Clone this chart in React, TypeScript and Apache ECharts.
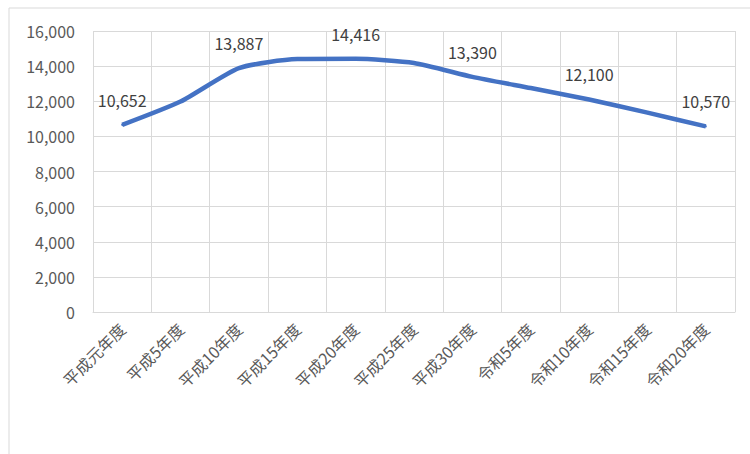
import React, { useEffect, useRef } from "react";
import * as echarts from "echarts";

const categories = [
  "平成元年度", "平成5年度", "平成10年度", "平成15年度", "平成20年度", "平成25年度",
  "平成30年度", "令和5年度", "令和10年度", "令和15年度", "令和20年度",
];
const values = [10652, 11980, 13887, 14400, 14416, 14180, 13390, 12750, 12100, 11350, 10570];
const labeledIndexes = [0, 2, 4, 6, 8, 10];
const yMin = 0;
const yMax = 16000;
const yInterval = 2000;

export default function App() {
  const ref = useRef<HTMLDivElement>(null);
  useEffect(() => {
    if (!ref.current) return;
    const chart = echarts.init(ref.current, null, { renderer: "svg" });
    const font = "'Noto Sans CJK JP', 'Noto Sans', sans-serif";
    chart.setOption({
      animation: false,
      backgroundColor: "#ffffff",
      textStyle: { fontFamily: font },
      graphic: [
        {
          type: "rect",
          shape: { x: 9, y: 8, width: 760, height: 470 },
          style: { fill: "none", stroke: "#d9d9d9", lineWidth: 1 },
          silent: true,
        },
      ],
      grid: { left: 93, right: 15, top: 31, bottom: 142 },
      xAxis: {
        type: "category",
        data: categories,
        boundaryGap: true,
        axisLine: { show: true, lineStyle: { color: "#d9d9d9", width: 1 } },
        axisTick: { show: false },
        splitLine: { show: true, lineStyle: { color: "#d9d9d9", width: 1 } },
        axisLabel: {
          rotate: 45,
          margin: 14,
          fontSize: 16,
          color: "#595959",
          fontFamily: font,
          interval: 0,
        },
      },
      yAxis: {
        type: "value",
        min: yMin,
        max: yMax,
        interval: yInterval,
        axisLine: { show: false },
        axisTick: { show: false },
        splitLine: { show: true, lineStyle: { color: "#d9d9d9", width: 1 } },
        axisLabel: {
          margin: 18,
          fontSize: 16,
          color: "#595959",
          fontFamily: font,
          formatter: (v: number) => v.toLocaleString("en-US"),
        },
      },
      series: [
        {
          type: "line",
          data: values.map((v, i) => ({
            value: v,
            label: { show: labeledIndexes.includes(i) },
          })),
          smooth: 0.2,
          showSymbol: true,
          symbol: "circle",
          symbolSize: 2,
          lineStyle: { color: "#4472C4", width: 4.5 },
          itemStyle: { color: "#4472C4" },
          label: {
            show: false,
            position: "top",
            distance: 16,
            fontSize: 16,
            color: "#404040",
            fontFamily: font,
            formatter: (p: any) => Number(p.value).toLocaleString("en-US"),
          },
        },
      ],
    });
    return () => chart.dispose();
  }, []);
  return (
    <div
      ref={ref}
      style={{ position: "fixed", left: 0, top: 0, width: 750, height: 454 }}
    />
  );
}
